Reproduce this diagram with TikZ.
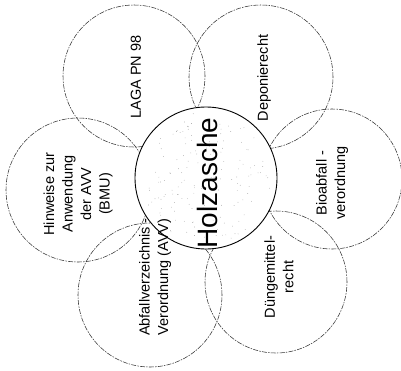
\documentclass[tikz,border=0pt]{standalone}
\usepackage{fontspec}
\setmainfont{Liberation Sans}
\usetikzlibrary{calc}
\begin{document}
\begin{tikzpicture}[x=1pt,y=-1pt,
  ring/.style={circle, draw=black!80, line width=0.55pt,
    dash pattern=on 5pt off 1.2pt on 1.5pt off 1.2pt,
    inner sep=0pt, minimum size=#1},
  hub/.style={circle, draw=black, line width=0.9pt, fill=white,
    inner sep=0pt, minimum size=142pt},
  lbl/.style={rotate=90, align=center, inner sep=0pt,
    font=\fontsize{14.5}{18.5}\selectfont},
  title/.style={rotate=90, inner sep=0pt, font=\fontsize{28}{32}\selectfont}]
\useasboundingbox (0,0) rectangle (401,370);

% outer topic circles
\node[ring=142pt] (laga) at (134,76) {};
\node[ring=144pt] (depo) at (261,77) {};
\node[ring=140pt] (bio)  at (332,179) {};
\node[ring=142pt] (dung) at (276,282) {};
\node[ring=144pt] (abf)  at (150,295) {};
\node[ring=144pt] (hin)  at (78,190) {};

% central circle with speckled fill
\node[hub] (hub) at (206,178) {};
\pgfmathsetseed{11}
\foreach \k in {1,...,160}{
  \pgfmathsetmacro{\ang}{rnd*360}
  \pgfmathsetmacro{\rad}{66*sqrt(rnd)}
  \fill[black!45] ($(hub.center)+(\ang:\rad pt)$) circle (0.35pt);
}

% labels
\node[title] (holz) at (207,183) {Holzasche};
\node[lbl] (tlaga) at (136,77) {LAGA PN 98};
\node[lbl] (tdepo) at (264,78) {Deponierecht};
\node[lbl] (tbio)  at (332,183) {Bioabfall -\\verordnung};
\node[lbl] (tdung) at (279,277) {Düngemittel-\\recht};
\node[lbl] (tabf)  at (155,277) {Abfallverzeichnis -\\Verordnung (AVV)};
\node[lbl] (thin)  at (78,194) {Hinweise zur\\Anwendung\\der AVV\\(BMU)};
\end{tikzpicture}
\end{document}
